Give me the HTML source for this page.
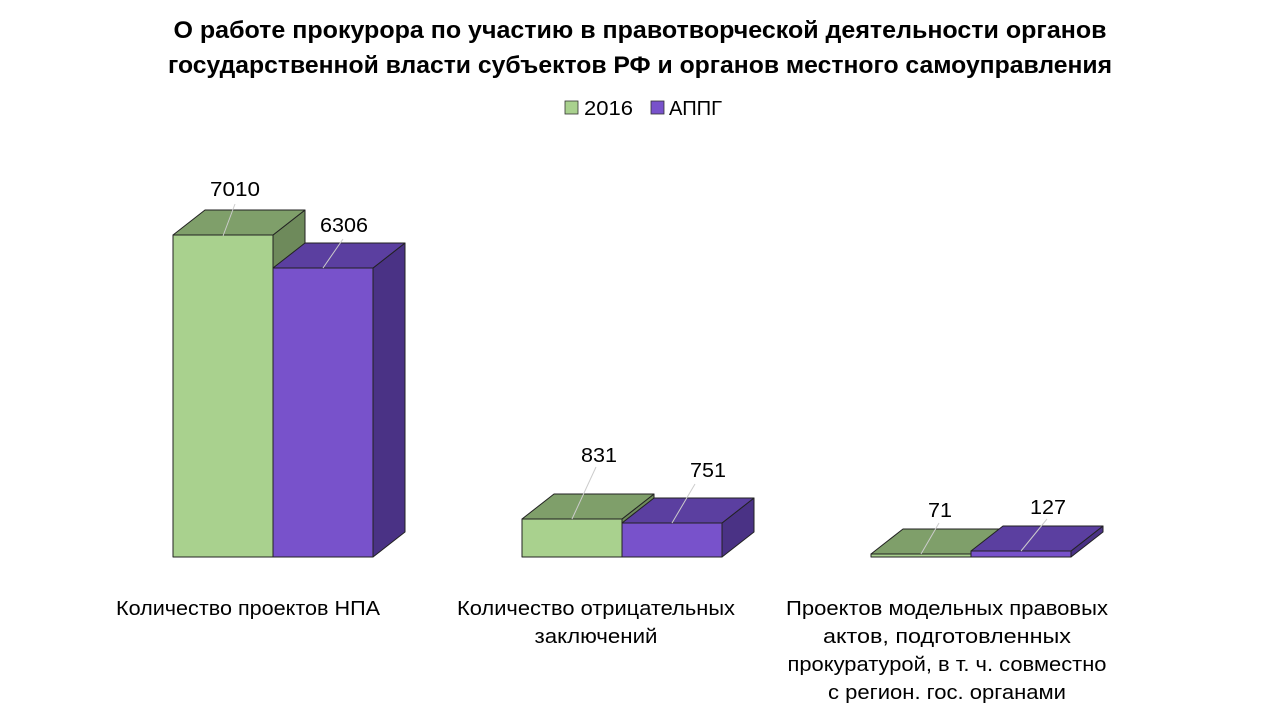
<!DOCTYPE html>
<html><head><meta charset="utf-8"><style>
body{margin:0;background:#fff;width:1280px;height:720px;overflow:hidden;font-family:"Liberation Sans","DejaVu Sans",sans-serif}
</style></head><body>
<svg width="1280" height="720" xmlns="http://www.w3.org/2000/svg" font-family="Liberation Sans, DejaVu Sans, sans-serif">
<g lengthAdjust="spacingAndGlyphs">
<text x="640" y="38" text-anchor="middle" font-size="24" font-weight="bold" fill="#000" textLength="933" lengthAdjust="spacingAndGlyphs">О работе прокурора по участию в правотворческой деятельности органов</text>
<text x="640" y="73" text-anchor="middle" font-size="24" font-weight="bold" fill="#000" textLength="944" lengthAdjust="spacingAndGlyphs">государственной власти субъектов РФ и органов местного самоуправления</text>
</g>
<rect x="565" y="101" width="13" height="13" fill="#A9D18E" stroke="#333" stroke-width="0.8"/>
<text x="584" y="115" font-size="20" textLength="49" lengthAdjust="spacingAndGlyphs">2016</text>
<rect x="651" y="101" width="13" height="13" fill="#7852CB" stroke="#333" stroke-width="0.8"/>
<text x="669" y="115" font-size="20" textLength="53" lengthAdjust="spacingAndGlyphs">АППГ</text>
<g stroke="#222" stroke-width="1" stroke-linejoin="round">
<polygon points="273,235 305,210 305,532 273,557" fill="#6E8A5B"/>
<polygon points="173,235 205,210 305,210 273,235" fill="#7F9F6A"/>
<rect x="173" y="235" width="100" height="322" fill="#A9D18E"/>
<polygon points="373,268 405,243 405,532 373,557" fill="#4A3285"/>
<polygon points="273,268 305,243 405,243 373,268" fill="#5B3FA0"/>
<rect x="273" y="268" width="100" height="289" fill="#7852CB"/>
<polygon points="622,519 654,494 654,532 622,557" fill="#6E8A5B"/>
<polygon points="522,519 554,494 654,494 622,519" fill="#7F9F6A"/>
<rect x="522" y="519" width="100" height="38" fill="#A9D18E"/>
<polygon points="722,523 754,498 754,532 722,557" fill="#4A3285"/>
<polygon points="622,523 654,498 754,498 722,523" fill="#5B3FA0"/>
<rect x="622" y="523" width="100" height="34" fill="#7852CB"/>
<polygon points="871,554 903,529 1003,529 971,554" fill="#7F9F6A"/>
<rect x="871" y="554" width="100" height="3" fill="#A9D18E"/>
<polygon points="1071,551 1103,526 1103,532 1071,557" fill="#4A3285"/>
<polygon points="971,551 1003,526 1103,526 1071,551" fill="#5B3FA0"/>
<rect x="971" y="551" width="100" height="6" fill="#7852CB"/>
</g>
<g stroke="#ccc" stroke-width="1">
<line x1="235" y1="204" x2="223" y2="236"/>
<line x1="343" y1="239" x2="323" y2="268"/>
<line x1="596" y1="467" x2="572" y2="519"/>
<line x1="695" y1="484" x2="672" y2="523"/>
<line x1="939" y1="523" x2="921" y2="554"/>
<line x1="1047" y1="519" x2="1021" y2="551"/>
</g>
<g font-size="20" text-anchor="middle" fill="#000" lengthAdjust="spacingAndGlyphs">
<text x="235" y="196" textLength="50" lengthAdjust="spacingAndGlyphs">7010</text>
<text x="344" y="232" textLength="48" lengthAdjust="spacingAndGlyphs">6306</text>
<text x="599" y="462" textLength="36" lengthAdjust="spacingAndGlyphs">831</text>
<text x="708" y="477" textLength="36" lengthAdjust="spacingAndGlyphs">751</text>
<text x="940" y="517" textLength="24" lengthAdjust="spacingAndGlyphs">71</text>
<text x="1048" y="514" textLength="36" lengthAdjust="spacingAndGlyphs">127</text>
<text x="248" y="615" textLength="264" lengthAdjust="spacingAndGlyphs">Количество проектов НПА</text>
<text x="596" y="615" textLength="278" lengthAdjust="spacingAndGlyphs">Количество отрицательных</text>
<text x="596" y="643" textLength="123" lengthAdjust="spacingAndGlyphs">заключений</text>
<text x="947" y="615" textLength="322" lengthAdjust="spacingAndGlyphs">Проектов модельных правовых</text>
<text x="947" y="643" textLength="248" lengthAdjust="spacingAndGlyphs">актов, подготовленных</text>
<text x="947" y="671" textLength="319" lengthAdjust="spacingAndGlyphs">прокуратурой, в т. ч. совместно</text>
<text x="947" y="699" textLength="238" lengthAdjust="spacingAndGlyphs">с регион. гос. органами</text>
</g>
</svg>
</body></html>
